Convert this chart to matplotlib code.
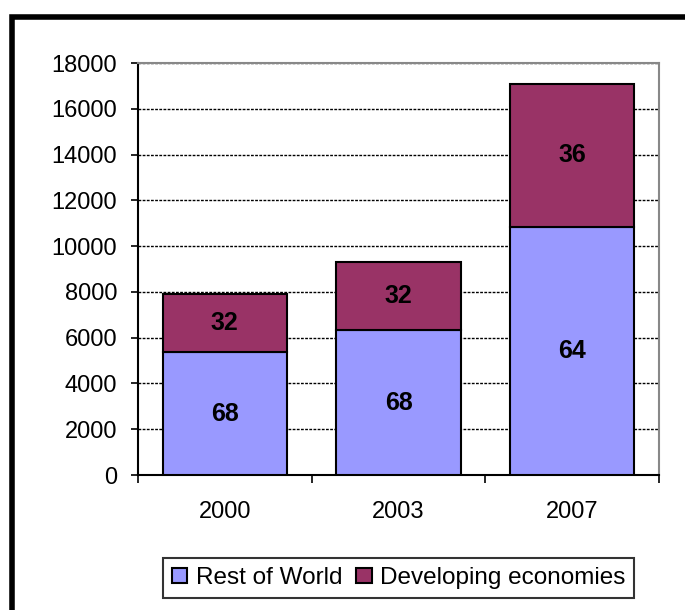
import matplotlib.pyplot as plt
from matplotlib.patches import Rectangle
import numpy as np

years = ["2000", "2003", "2007"]
rest_of_world = [5370, 6330, 10850]
developing = [2530, 2970, 6230]
rest_pct = ["68", "68", "64"]
dev_pct = ["32", "32", "36"]

plt.rcParams["font.family"] = ["Liberation Sans", "DejaVu Sans"]

W, H = 685, 610
fig = plt.figure(figsize=(W / 100, H / 100), dpi=100)

# outer frame (only top and left edges are visible in the original)
fig.patches.append(Rectangle((12.5 / W, -0.1), 1.2, 1.1 - 16.5 / H,
                             transform=fig.transFigure, fill=False,
                             edgecolor="black", linewidth=4, zorder=0))

ax = fig.add_axes([138 / W, 1 - 475 / H, (659 - 138) / W, (475 - 63) / H])
x = np.arange(len(years))
width = 0.715
b1 = ax.bar(x, rest_of_world, width, color="#9999ff", edgecolor="black",
            linewidth=1.5, label="Rest of World", zorder=3)
b2 = ax.bar(x, developing, width, bottom=rest_of_world, color="#993366",
            edgecolor="black", linewidth=1.5, label="Developing economies", zorder=3)

for i in range(len(years)):
    ax.text(x[i], rest_of_world[i] / 2, rest_pct[i], ha="center", va="center",
            fontsize=18, fontweight="bold", zorder=4)
    ax.text(x[i], rest_of_world[i] + developing[i] / 2, dev_pct[i], ha="center",
            va="center", fontsize=18, fontweight="bold", zorder=4)

ax.set_xlim(-0.5, 2.5)
ax.set_ylim(0, 18000)
ax.set_yticks(np.arange(0, 18001, 2000))
ax.tick_params(axis="y", labelsize=17, length=5, width=1.2, direction="out", pad=10)
ax.set_xticks([-0.5, 0.5, 1.5, 2.5])
ax.set_xticklabels([])
ax.set_xticks(x, minor=True)
ax.set_xticklabels(years, minor=True)
ax.tick_params(axis="x", which="major", length=6, width=1.2, direction="out")
ax.tick_params(axis="x", which="minor", length=0, labelsize=17, pad=19)
ax.yaxis.grid(True, color="black", linestyle=(0, (2, 1)), linewidth=1, zorder=0)
ax.set_axisbelow(True)

ax.spines["left"].set_linewidth(1.5)
ax.spines["bottom"].set_linewidth(1.5)
ax.spines["top"].set_color("#888888")
ax.spines["right"].set_color("#888888")
ax.spines["top"].set_linewidth(1.5)
ax.spines["right"].set_linewidth(1.5)

leg = fig.legend(handles=[b1, b2], loc="center",
                 bbox_to_anchor=((163 + 634) / 2 / W, 1 - 578 / H),
                 ncol=2, frameon=True, fancybox=False, fontsize=17.5,
                 handlelength=0.65, handleheight=0.62, handletextpad=0.35,
                 columnspacing=0.55, borderpad=0.35)
leg.get_frame().set_edgecolor("black")
leg.get_frame().set_linewidth(1.5)

fig.savefig("out.png", dpi=100)
